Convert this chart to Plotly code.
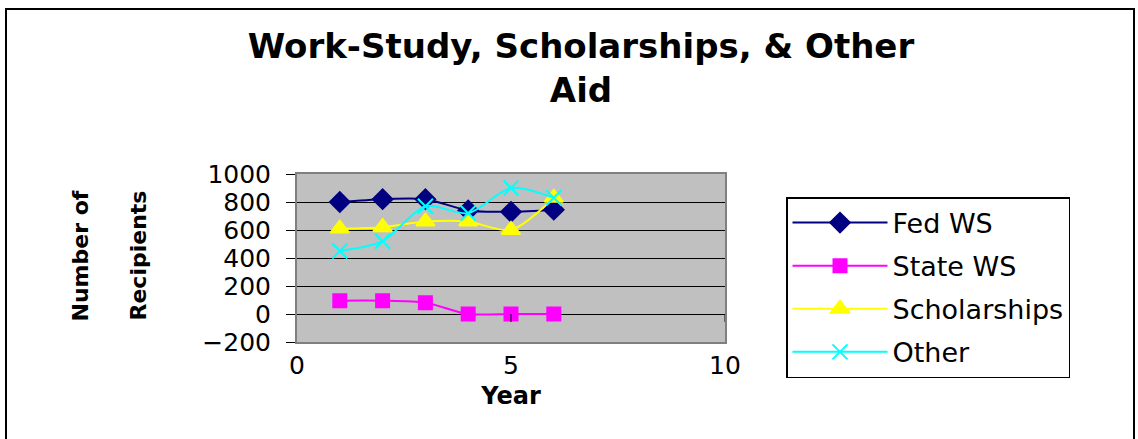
import plotly.graph_objects as go

# Aid recipients by year
years = [1, 2, 3, 4, 5, 6]
fed_ws = [800, 820, 820, 740, 730, 745]
state_ws = [95, 95, 80, 0, 0, 0]
scholarships = [610, 620, 660, 660, 600, 830]
other = [450, 520, 770, 720, 900, 830]

series = [
    ("Fed WS", fed_ws, "#000080", "diamond", 15),
    ("State WS", state_ws, "#FF00FF", "square", 13),
    ("Scholarships", scholarships, "#FFFF00", "triangle-up", 16),
    ("Other", other, "#00FFFF", "x-thin-open", 15),
]

FONT = "DejaVu Sans, Liberation Sans, Arial, sans-serif"

fig = go.Figure()
for name, vals, color, symbol, size in series:
    fig.add_trace(go.Scatter(
        x=years, y=vals, name=name, mode="lines+markers",
        line=dict(color=color, width=2, shape="spline", smoothing=0.8),
        marker=dict(symbol=symbol, size=size, color=color,
                    line=dict(color=color, width=2)),
        legendgroup=name,
    ))

# plot-area geometry (pixels) used to place the frame shapes
L, R, T, B = 297, 725, 174, 342
W, H = 1138, 439
pw, ph = R - L, B - T


def px_x(v):
    return (v - L) / pw


def px_y(v):
    return (B - v) / ph


shapes = [
    # outer chart frame
    dict(type="rect", xref="paper", yref="paper",
         x0=px_x(6), x1=px_x(1134), y0=px_y(450), y1=px_y(9),
         line=dict(color="black", width=2), fillcolor="rgba(0,0,0,0)", layer="below"),
]
# x-axis tick marks sit on the zero line
for xv in [5, 10]:
    shapes.append(dict(type="line", xref="x", yref="y", x0=xv, x1=xv, y0=0, y1=-57,
                       line=dict(color="black", width=1)))

fig.update_layout(
    width=W, height=H,
    margin=dict(l=L, r=W - R, t=T, b=H - B),
    paper_bgcolor="white",
    plot_bgcolor="#C0C0C0",
    font=dict(family=FONT, color="black"),
    title=dict(text="<b>Work-Study, Scholarships, &amp; Other<br>Aid</b>",
               font=dict(size=34, family=FONT, color="black"),
               x=581 / W, xanchor="center", xref="container",
               y=1 - 58 / H, yanchor="top", yref="container"),
    xaxis=dict(range=[0, 10], dtick=5, showgrid=False, zeroline=False,
               showline=True, linecolor="#808080", linewidth=2, mirror=True,
               ticks="", tickfont=dict(size=25, family=FONT),
               title=dict(text="<b>Year</b>", font=dict(size=24, family=FONT), standoff=8)),
    yaxis=dict(range=[-200, 1000], dtick=200, showgrid=True, gridcolor="black", gridwidth=1,
               zeroline=True, zerolinecolor="black", zerolinewidth=1,
               showline=True, linecolor="#808080", linewidth=2, mirror=True,
               ticks="outside", ticklen=9, tickcolor="black",
               tickfont=dict(size=25, family=FONT), ticklabelstandoff=10),
    legend=dict(x=px_x(786), y=px_y(197), xanchor="left", yanchor="top",
                xref="paper", yref="paper", maxheight=400,
                bordercolor="black", borderwidth=1.5, bgcolor="white",
                font=dict(size=27, family=FONT), itemwidth=95,
                traceorder="grouped", tracegroupgap=5),
    shapes=shapes,
    annotations=[
        dict(text="<b>Number of</b>", xref="paper", yref="paper",
             x=px_x(65), y=px_y(256), textangle=-90, showarrow=False,
             font=dict(size=22, family=FONT)),
        dict(text="<b>Recipients</b>", xref="paper", yref="paper",
             x=px_x(123), y=px_y(256), textangle=-90, showarrow=False,
             font=dict(size=22, family=FONT)),
    ],
    showlegend=True,
)

fig.write_html("out.html")
